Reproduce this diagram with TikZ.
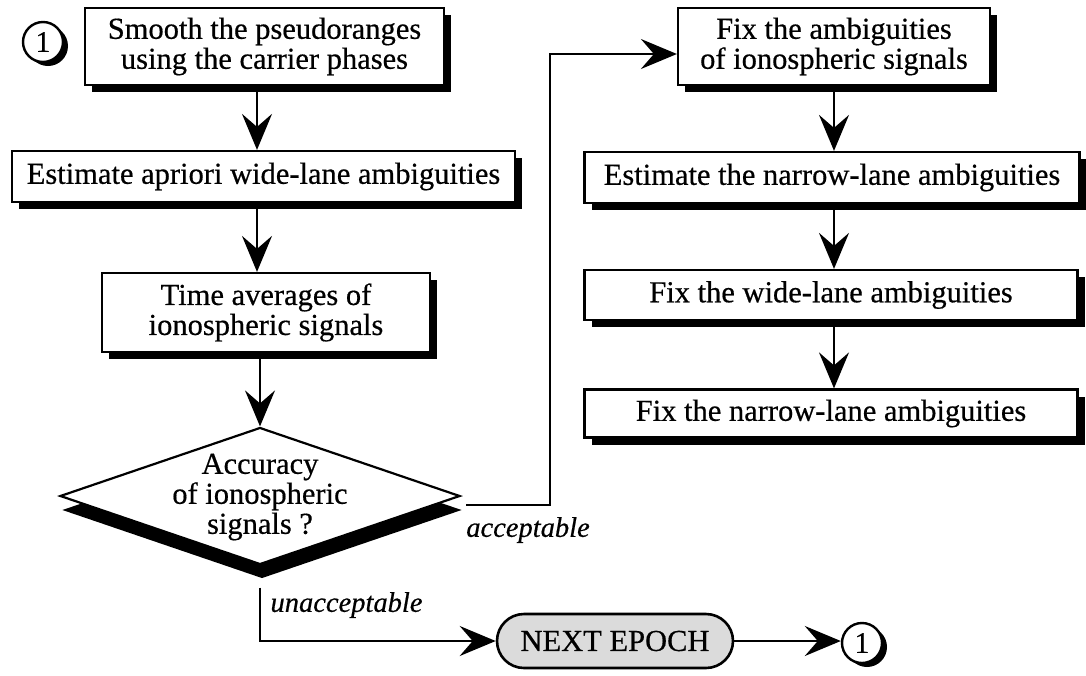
\documentclass[tikz,border=0pt]{standalone}
\usepackage{fontspec}
\setmainfont{Liberation Serif}[FakeBold=0.5]
\usetikzlibrary{arrows.meta,calc,shapes.geometric,shadows}

\begin{document}
\begin{tikzpicture}[x=1pt,y=1pt,
  txt/.style={font=\fontsize{30.5}{30}\selectfont},
  hardshadow/.style={drop shadow={shadow xshift=#1, shadow yshift=-#1, fill=black, opacity=1}},
  box/.style={txt, draw, line width=2.2pt, fill=white, align=center, inner sep=0pt, hardshadow=7pt},
  decision/.style={diamond, draw, line width=2.2pt, fill=white, inner sep=0pt,
    minimum width=400pt, minimum height=137pt,
    drop shadow={shadow xshift=2pt, shadow yshift=-14pt, fill=black, opacity=1}},
  terminal/.style={txt, draw, line width=2.6pt, fill=black!14, rounded corners=27pt,
    inner sep=0pt, minimum width=236pt, minimum height=54pt},
  num/.style={circle, draw, line width=2.4pt, fill=white, minimum size=40pt, inner sep=0pt,
    font=\fontsize{30}{30}\selectfont,
    drop shadow={shadow xshift=5pt, shadow yshift=-4pt, fill=black, opacity=1}},
  arr/.style={line width=2.2pt, -{Stealth[length=36pt,width=30pt,inset=13pt]}},
  lbl/.style={font=\itshape\fontsize{28.5}{28}\selectfont},
]
\useasboundingbox (0,0) rectangle (1086,-675);

% left column
\node[num] (S) at (43,-42) {1};
\node[box, minimum width=359pt, minimum height=77pt] (A) at (264.5,-46.5)
  {Smooth the pseudoranges\\using the carrier phases};
\node[box, minimum width=503pt, minimum height=51pt] (B) at (263.5,-176.5)
  {Estimate apriori wide-lane ambiguities};
\node[box, minimum width=328pt, minimum height=79pt] (C) at (266,-312.5)
  {Time averages of\\ionospheric signals};
\node[decision] (Q) at (260,-496) {};
\node[txt, align=center, font=\fontsize{30.5}{30}\selectfont] (Qt) at (260,-497)
  {Accuracy\\of ionospheric\\signals ?};

% right column
\node[box, minimum width=312pt, minimum height=77pt] (D) at (834,-46.5)
  {Fix the ambiguities\\of ionospheric signals};
\node[box, minimum width=495pt, minimum height=51pt] (E) at (832,-177.5)
  {Estimate the narrow-lane ambiguities};
\node[box, minimum width=493pt, minimum height=50pt] (F) at (831,-295)
  {Fix the wide-lane ambiguities};
\node[box, minimum width=493pt, minimum height=48pt] (G) at (831,-413.5)
  {Fix the narrow-lane ambiguities};

% bottom row
\node[terminal] (N) at (615,-641) {NEXT EPOCH};
\node[num] (X) at (862,-643) {1};

% connectors
\coordinate (col) at (257,0);
\coordinate (bend) at (550,-54);
\draw[arr] (A.south -| col) -- (B.north -| col);
\draw[arr] (B.south -| col) -- (C.north -| col);
\draw[arr] (C.south -| Q.north) -- (Q.north);
\draw[arr] ([shift={(5pt,-9pt)}]Q.east) -| (bend) -- (bend -| D.west);
\draw[arr] ([yshift=-22pt]Q.south) |- (N.west);
\draw[arr] (N.east) -- (N.east -| X.west);
\draw[arr] (D.south) -- (D.south |- E.north);
\draw[arr] (E.south -| D.south) -- (D.south |- F.north);
\draw[arr] (F.south -| D.south) -- (D.south |- G.north);

% branch labels
\node[lbl] (acc) at (528,-530) {acceptable};
\node[lbl, anchor=west] (unacc) at (267,-605) {unacceptable};
\end{tikzpicture}
\end{document}
